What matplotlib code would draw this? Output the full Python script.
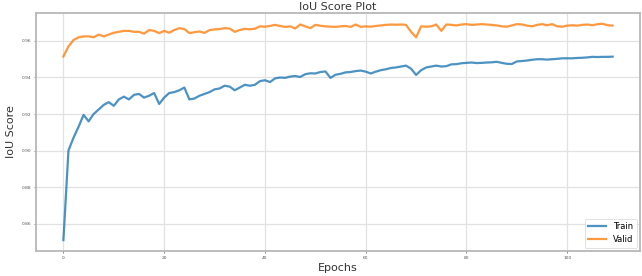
import matplotlib
matplotlib.use('Agg')
import matplotlib.pyplot as plt
import numpy as np

# IoU scores per epoch
train_iou = [
	0.851, 0.900, 0.907, 0.913, 0.9195, 0.916, 0.920, 0.9225, 0.925, 0.9265,
	0.9245, 0.928, 0.9295, 0.928, 0.9305, 0.931, 0.929, 0.930, 0.9315, 0.9255,
	0.929, 0.9315, 0.932, 0.933, 0.9345, 0.928, 0.9285, 0.930, 0.931, 0.932,
	0.9335, 0.934, 0.9355, 0.935, 0.933, 0.9345, 0.936, 0.9355, 0.936, 0.938,
	0.9385, 0.9375, 0.9395, 0.940, 0.9398, 0.9405, 0.9408, 0.9403, 0.9418, 0.9423,
	0.9422, 0.943, 0.9433, 0.9398, 0.9415, 0.942, 0.9428, 0.943, 0.9435, 0.9438,
	0.9432, 0.9422, 0.9432, 0.944, 0.9445, 0.9452, 0.9455, 0.946, 0.9465, 0.9448,
	0.9414, 0.944, 0.9455, 0.946, 0.9465, 0.946, 0.9462, 0.9472, 0.9473, 0.9478,
	0.948, 0.9482, 0.9479, 0.948, 0.9482, 0.9483, 0.9486, 0.948, 0.9475, 0.9474,
	0.9488, 0.949, 0.9493, 0.9497, 0.950, 0.950, 0.9498, 0.950, 0.9502, 0.9505,
	0.9505, 0.9505, 0.9507, 0.9508, 0.951, 0.9513, 0.9512, 0.9513, 0.9513, 0.9514,
]
valid_iou = [
	0.9515, 0.957, 0.9605, 0.962, 0.9625, 0.9625, 0.962, 0.9635, 0.9625, 0.9635,
	0.9645, 0.965, 0.9655, 0.9655, 0.965, 0.965, 0.964, 0.966, 0.9655, 0.9643,
	0.9655, 0.9645, 0.966, 0.967, 0.9665, 0.9643, 0.9648, 0.9652, 0.9644, 0.966,
	0.9663, 0.9665, 0.967, 0.9668, 0.965, 0.966, 0.9666, 0.9664, 0.9667, 0.968,
	0.9678, 0.9682, 0.9688, 0.9682, 0.9677, 0.968, 0.9668, 0.969, 0.968, 0.967,
	0.9688, 0.9683, 0.968, 0.9678, 0.9677, 0.968, 0.9682, 0.9677, 0.969, 0.9677,
	0.968, 0.9678, 0.9682, 0.9685, 0.9688, 0.969, 0.9689, 0.969, 0.9688, 0.965,
	0.962, 0.968, 0.9678, 0.968, 0.969, 0.9655, 0.969, 0.9688, 0.9685, 0.969,
	0.9692, 0.9688, 0.969, 0.9692, 0.969, 0.9688, 0.9685, 0.968, 0.9678, 0.9685,
	0.9692, 0.969, 0.9684, 0.968, 0.9688, 0.9692, 0.9686, 0.9692, 0.968, 0.9678,
	0.9684, 0.9686, 0.9684, 0.9688, 0.969, 0.9686, 0.9692, 0.9694, 0.9686, 0.9684,
]
epochs = np.arange(len(train_iou))

fig = plt.figure(figsize=(6.42, 2.76), dpi=100)
ax = fig.add_axes([0.056, 0.091, 0.941, 0.862])

ax.plot(epochs, train_iou, color='#1f77b4', lw=1.6, alpha=0.8, label='Train')
ax.plot(epochs, valid_iou, color='#ff7f0e', lw=1.6, alpha=0.8, label='Valid')

ax.set_title('IoU Score Plot', fontsize=8, color='#333333', pad=2)
ax.set_xlabel('Epochs', fontsize=8, color='#333333', labelpad=2)
ax.set_ylabel('IoU Score', fontsize=8, color='#333333', labelpad=4)

ax.set_xticks([0, 20, 40, 60, 80, 100])
ax.set_yticks([0.86, 0.88, 0.90, 0.92, 0.94, 0.96])
ax.tick_params(labelsize=3.2, length=1.5, width=0.5, colors='#555555', pad=2)
ax.grid(color='#e2e2e2', lw=0.9)
for sp in ax.spines.values():
	sp.set_color('#b8b8b8')
	sp.set_linewidth(1.3)

leg = ax.legend(loc='lower right', fontsize=6, handlelength=2.2, borderaxespad=0.4)
leg.get_frame().set_linewidth(0.5)

fig.savefig('out.png', dpi=100)
